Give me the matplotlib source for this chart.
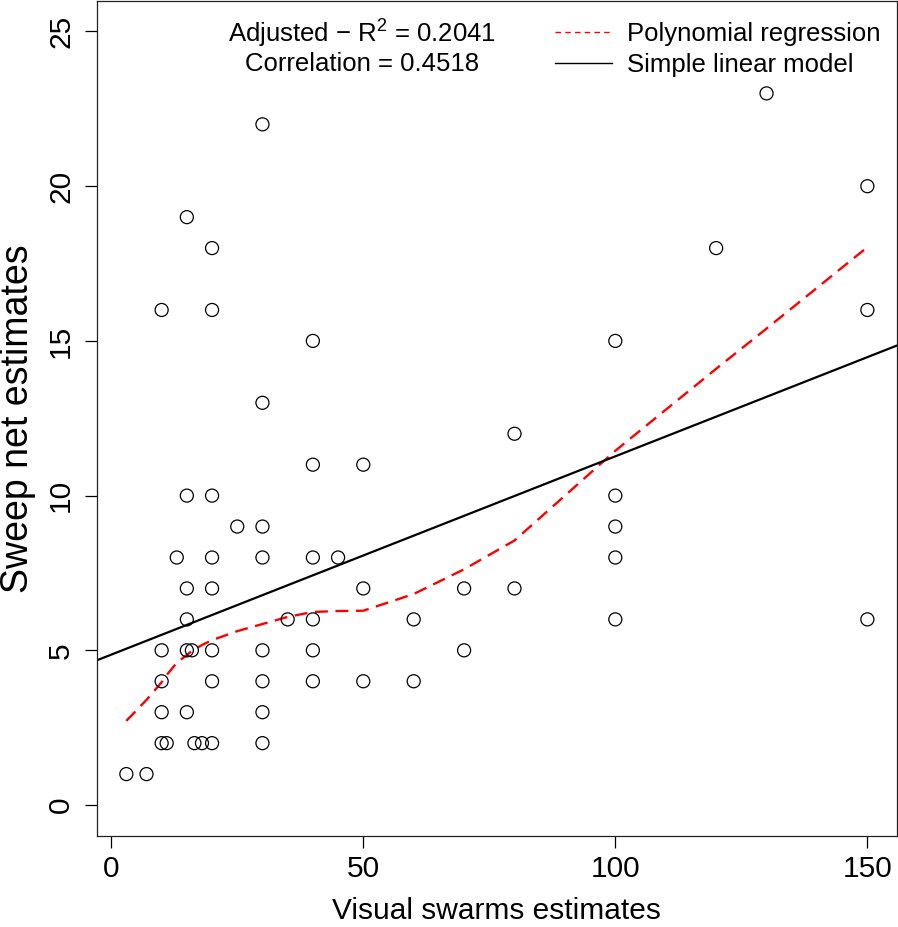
import numpy as np
import matplotlib
matplotlib.use("Agg")
import matplotlib.pyplot as plt
from matplotlib.lines import Line2D

plt.rcParams['font.family'] = ['Liberation Sans', 'DejaVu Sans']
plt.rcParams['mathtext.fontset'] = 'custom'
plt.rcParams['mathtext.rm'] = 'Liberation Sans'
plt.rcParams['mathtext.it'] = 'Liberation Sans:italic'

# observations (visual swarm estimate, sweep net estimate)
visual = [3, 7,
          10, 10, 10, 10, 10, 11, 13,
          15, 15, 15, 15, 15, 15, 16, 16.5, 18,
          20, 20, 20, 20, 20, 20, 20, 20, 25,
          30, 30, 30, 30, 30, 30, 30, 30, 35,
          40, 40, 40, 40, 40, 40, 45,
          50, 50, 50, 60, 60, 70, 70, 80, 80,
          100, 100, 100, 100, 100, 120, 130, 150, 150, 150]
sweep = [1, 1,
         16, 5, 4, 3, 2, 2, 8,
         19, 10, 7, 6, 5, 3, 5, 2, 2,
         18, 16, 10, 8, 7, 5, 4, 2, 9,
         22, 13, 9, 8, 5, 4, 3, 2, 6,
         15, 11, 8, 6, 5, 4, 8,
         11, 7, 4, 6, 4, 7, 5, 12, 7,
         15, 10, 9, 8, 6, 18, 23, 20, 16, 6]

# smoothed (polynomial / local) regression
poly_x = [3, 7, 10, 11, 13, 15, 16, 17, 18, 20, 25, 30, 35, 40, 45, 50,
          60, 70, 80, 100, 120, 130, 150]
poly_y = [2.72, 3.4, 3.97, 4.2, 4.6, 4.85, 4.98, 5.08, 5.17, 5.33, 5.62, 5.85,
          6.08, 6.24, 6.27, 6.28, 6.82, 7.62, 8.55, 11.45, 14.1, 15.4, 18.03]

# simple linear model
lm_intercept = 4.86
lm_slope = 0.0641

r2_text = r'Adjusted $-$ $\mathrm{R}^{2}$ = 0.2041'
cor_text = 'Correlation = 0.4518'

fig = plt.figure(figsize=(8.98, 9.27), dpi=100)
ax = fig.add_axes([0.1077, 0.0982, 0.8912, 0.9012])

ax.scatter(visual, sweep, s=88, facecolors='none', edgecolors='black',
           linewidths=0.9, zorder=3)
ax.plot(poly_x, poly_y, color='red', lw=1.7, dashes=(5.5, 3.2), zorder=2)
ax.axline((0, lm_intercept), slope=lm_slope, color='black', lw=1.6, zorder=2)

ax.set_xlim(-2.88, 155.88)
ax.set_ylim(-1, 26)
ax.set_xticks([0, 50, 100, 150])
ax.set_yticks([0, 5, 10, 15, 20, 25])
ax.tick_params(axis='both', direction='out', length=8.5, width=0.9,
               labelsize=21.5, pad=7)
ax.tick_params(axis='x', pad=5)
ax.tick_params(axis='y', labelrotation=90)
for lab in ax.get_yticklabels():
    lab.set_va('center')
for sp in ax.spines.values():
    sp.set_linewidth(0.9)
    sp.set_color('#222222')

ax.set_xlabel('Visual swarms estimates', fontsize=21.5, labelpad=10)
ax.set_ylabel('Sweep net estimates', fontsize=27, labelpad=8)

ax.text(0.3315, 0.9605, r2_text, transform=ax.transAxes, ha='center',
        va='center', fontsize=18.5)
ax.text(0.3315, 0.9246, cor_text, transform=ax.transAxes, ha='center',
        va='center', fontsize=18.5)

handles = [Line2D([], [], color='red', lw=1, dashes=(4, 3)),
           Line2D([], [], color='black', lw=1)]
ax.legend(handles, ['Polynomial regression', 'Simple linear model'],
          loc='upper right', bbox_to_anchor=(1.006, 1.0), frameon=False,
          fontsize=18.5, handlelength=2.2, handletextpad=0.6,
          labelspacing=0.27, borderaxespad=0.42)

fig.savefig('out.png', dpi=100)
